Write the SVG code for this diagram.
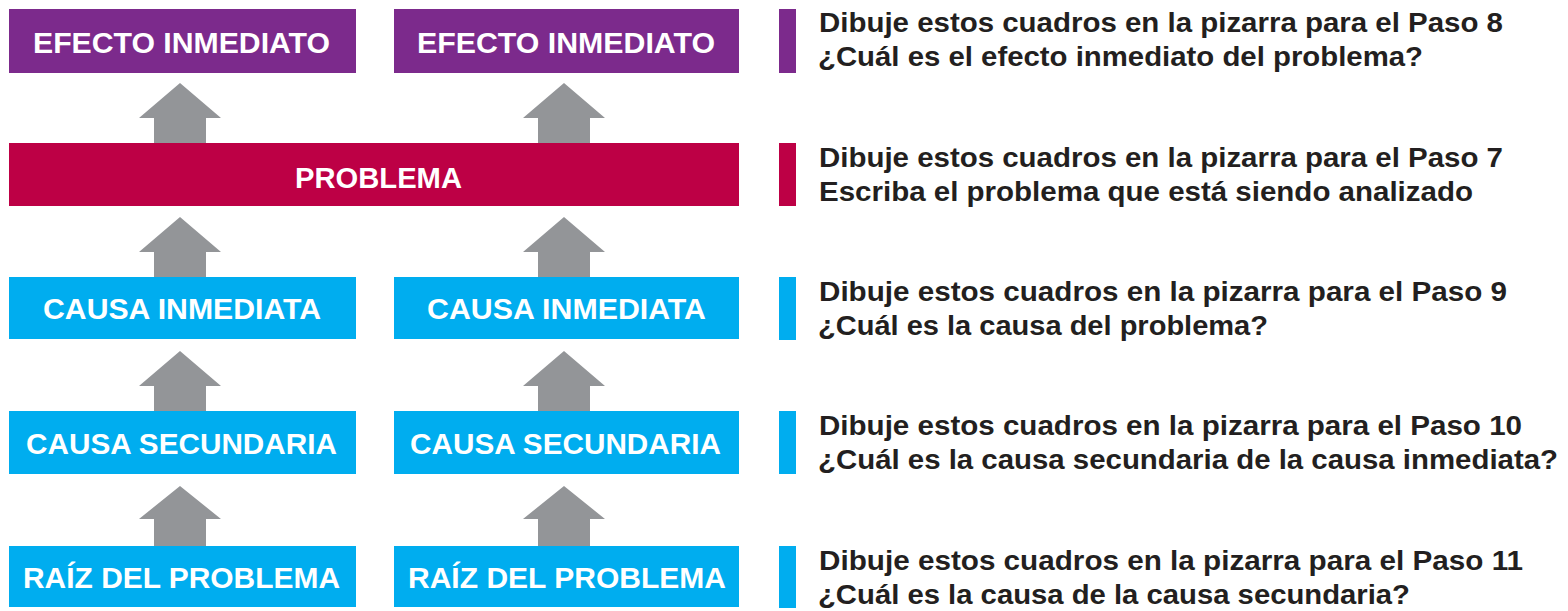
<svg xmlns="http://www.w3.org/2000/svg" width="1568" height="611" viewBox="0 0 1568 611">
<style>
.purple{fill:#7c2a8c}
.red{fill:#bd0045}
.blue{fill:#00adef}
.arrow{fill:#939598}
.bt{fill:#ffffff;font-family:"Liberation Sans",Arial,sans-serif;font-weight:bold;font-size:29px;text-anchor:start}
.lt{fill:#231f20;font-family:"Liberation Sans",Arial,sans-serif;font-weight:bold;font-size:27px}
</style>
<rect width="1568" height="611" fill="#ffffff"/>
<g id="connectors">
<polygon class="arrow" points="180,83 221,118 206,118 206,143 154,143 154,118 139,118"/>
<polygon class="arrow" points="564,83 605,118 590,118 590,143 538,143 538,118 523,118"/>
<polygon class="arrow" points="180,217 221,252 206,252 206,277 154,277 154,252 139,252"/>
<polygon class="arrow" points="564,217 605,252 590,252 590,277 538,277 538,252 523,252"/>
<polygon class="arrow" points="180,351 221,386 206,386 206,411 154,411 154,386 139,386"/>
<polygon class="arrow" points="564,351 605,386 590,386 590,411 538,411 538,386 523,386"/>
<polygon class="arrow" points="180,486 221,519 206,519 206,546 154,546 154,519 139,519"/>
<polygon class="arrow" points="564,486 605,519 590,519 590,546 538,546 538,519 523,519"/>
</g>
<g id="efecto1"><rect class="purple" x="9" y="9" width="347" height="64"/><text class="bt" x="33" y="53" textLength="297" lengthAdjust="spacingAndGlyphs">EFECTO INMEDIATO</text></g>
<g id="efecto2"><rect class="purple" x="394" y="9" width="345" height="64"/><text class="bt" x="417" y="53" textLength="298" lengthAdjust="spacingAndGlyphs">EFECTO INMEDIATO</text></g>
<g id="problema"><rect class="red" x="9" y="143" width="730" height="63"/><text class="bt" x="295" y="188" textLength="167" lengthAdjust="spacingAndGlyphs">PROBLEMA</text></g>
<g id="causa1"><rect class="blue" x="9" y="277" width="347" height="62"/><text class="bt" x="43" y="319" textLength="278" lengthAdjust="spacingAndGlyphs">CAUSA INMEDIATA</text></g>
<g id="causa2"><rect class="blue" x="394" y="277" width="345" height="62"/><text class="bt" x="427" y="319" textLength="279" lengthAdjust="spacingAndGlyphs">CAUSA INMEDIATA</text></g>
<g id="secundaria1"><rect class="blue" x="9" y="411" width="347" height="63"/><text class="bt" x="26" y="454" textLength="311" lengthAdjust="spacingAndGlyphs">CAUSA SECUNDARIA</text></g>
<g id="secundaria2"><rect class="blue" x="394" y="411" width="345" height="63"/><text class="bt" x="410" y="454" textLength="311" lengthAdjust="spacingAndGlyphs">CAUSA SECUNDARIA</text></g>
<g id="raiz1"><rect class="blue" x="9" y="546" width="347" height="61"/><text class="bt" x="23" y="588" textLength="317" lengthAdjust="spacingAndGlyphs">RAÍZ DEL PROBLEMA</text></g>
<g id="raiz2"><rect class="blue" x="394" y="546" width="345" height="61"/><text class="bt" x="408" y="588" textLength="318" lengthAdjust="spacingAndGlyphs">RAÍZ DEL PROBLEMA</text></g>
<g id="legend8"><rect class="purple" x="779" y="9" width="17" height="64"/>
<text class="lt" x="819" y="32" textLength="684" lengthAdjust="spacingAndGlyphs">Dibuje estos cuadros en la pizarra para el Paso 8</text>
<text class="lt" x="818" y="66" textLength="605" lengthAdjust="spacingAndGlyphs">¿Cuál es el efecto inmediato del problema?</text></g>
<g id="legend7"><rect class="red" x="779" y="143" width="17" height="63"/>
<text class="lt" x="819" y="167" textLength="684" lengthAdjust="spacingAndGlyphs">Dibuje estos cuadros en la pizarra para el Paso 7</text>
<text class="lt" x="819" y="201" textLength="654" lengthAdjust="spacingAndGlyphs">Escriba el problema que está siendo analizado</text></g>
<g id="legend9"><rect class="blue" x="779" y="277" width="17" height="63"/>
<text class="lt" x="819" y="301" textLength="688" lengthAdjust="spacingAndGlyphs">Dibuje estos cuadros en la pizarra para el Paso 9</text>
<text class="lt" x="818" y="335" textLength="450" lengthAdjust="spacingAndGlyphs">¿Cuál es la causa del problema?</text></g>
<g id="legend10"><rect class="blue" x="779" y="411" width="17" height="63"/>
<text class="lt" x="819" y="435" textLength="703" lengthAdjust="spacingAndGlyphs">Dibuje estos cuadros en la pizarra para el Paso 10</text>
<text class="lt" x="818" y="469" textLength="740" lengthAdjust="spacingAndGlyphs">¿Cuál es la causa secundaria de la causa inmediata?</text></g>
<g id="legend11"><rect class="blue" x="779" y="546" width="17" height="62"/>
<text class="lt" x="819" y="570" textLength="704" lengthAdjust="spacingAndGlyphs">Dibuje estos cuadros en la pizarra para el Paso 11</text>
<text class="lt" x="818" y="604" textLength="592" lengthAdjust="spacingAndGlyphs">¿Cuál es la causa de la causa secundaria?</text></g>
</svg>
